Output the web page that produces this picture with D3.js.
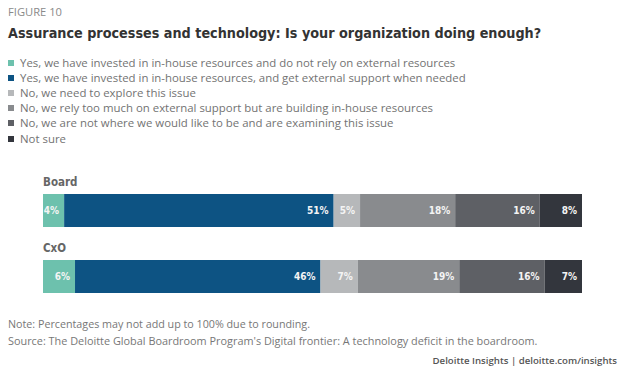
<!DOCTYPE html>
<html>
<head>
<meta charset="utf-8">
<script src="https://cdn.jsdelivr.net/npm/d3@7"></script>
<style>
  body { margin: 0; background: #fff; }
  text { font-family: "Open Sans", sans-serif; }
  .cond { font-family: "DejaVu Sans Condensed", "Liberation Sans Narrow", sans-serif; font-stretch: condensed; font-weight: bold; }
</style>
</head>
<body>
<script>
const groups = ["Board", "CxO"];
const responses = [
  "Yes, we have invested in in-house resources and do not rely on external resources",
  "Yes, we have invested in in-house resources, and get external support when needed",
  "No, we need to explore this issue",
  "No, we rely too much on external support but are building in-house resources",
  "No, we are not where we would like to be and are examining this issue",
  "Not sure"
];
const boardValues = [4, 51, 5, 18, 16, 8];
const cxoValues = [6, 46, 7, 19, 16, 7];

const colors = ["#6dc1ad", "#0d5383", "#b6b8ba", "#898b8e", "#5e6065", "#33363d"];

const w = 625;
const h = 370;

const svg = d3.select("body").append("svg")
  .attr("width", w)
  .attr("height", h);

// shrink/grow font so text hits a wanted width
function fit(sel, width) {
  const node = sel.node();
  const fs = parseFloat(sel.attr("font-size"));
  const len = node.getComputedTextLength();
  sel.attr("font-size", (fs * width / len).toFixed(2));
}

svg.append("text")
  .attr("x", 8).attr("y", 16)
  .attr("font-size", 10)
  .attr("fill", "#8a8a8a")
  .text("FIGURE 10")
  .call(fit, 54);

svg.append("text")
  .attr("class", "cond")
  .attr("x", 8).attr("y", 38)
  .attr("font-size", 17)
  .attr("fill", "#333")
  .text("Assurance processes and technology: Is your organization doing enough?")
  .call(fit, 533);

// legend
const legendY = d3.scalePoint().domain(d3.range(responses.length)).range([63, 138]);
const legend = svg.append("g")
  .selectAll("g")
  .data(responses)
  .enter()
  .append("g")
  .attr("transform", (d, i) => `translate(0,${legendY(i) + (i === 5 ? 1 : 0)})`);

legend.append("rect")
  .attr("x", 8).attr("y", -3)
  .attr("width", 6).attr("height", 6)
  .attr("fill", (d, i) => colors[i]);

const legendText = legend.append("text")
  .attr("x", 20).attr("y", 0)
  .attr("dy", "0.35em")
  .attr("font-size", 10.5)
  .attr("fill", "#737373")
  .text(d => d);

// size from the first line so all lines share one size
const l0 = legendText.filter((d, i) => i === 0);
fit(l0, 436);
legendText.attr("font-size", l0.attr("font-size"));

// bars
const x0 = 43, x1 = 582;
const barH = 33;
const rows = [
  { name: groups[0], values: boardValues, y: 194 },
  { name: groups[1], values: cxoValues, y: 260 }
];

rows.forEach(row => {
  const total = d3.sum(row.values);
  const xScale = d3.scaleLinear().domain([0, total]).range([x0, x1]);
  let acc = 0;
  const segs = row.values.map((v, i) => {
    const s = { v, i, start: acc, end: acc + v };
    acc += v;
    return s;
  });

  const g = svg.append("g");

  g.append("text")
    .attr("class", "cond")
    .attr("x", x0).attr("y", row.y - 8)
    .attr("font-size", 11.5)
    .attr("fill", "#666")
    .text(row.name);

  g.selectAll("rect")
    .data(segs)
    .enter()
    .append("rect")
    .attr("x", d => xScale(d.start))
    .attr("y", row.y)
    .attr("width", d => xScale(d.end) - xScale(d.start))
    .attr("height", barH)
    .attr("fill", d => colors[d.i]);

  g.selectAll(".val")
    .data(segs)
    .enter()
    .append("text")
    .attr("class", "cond val")
    .attr("x", d => xScale(d.end) - 5)
    .attr("y", row.y + barH / 2)
    .attr("dy", "0.35em")
    .attr("text-anchor", "end")
    .attr("font-size", 10)
    .attr("fill", "#f4f4f4")
    .text(d => d.v + "%");
});

// footer
svg.append("text")
  .attr("x", 8).attr("y", 328)
  .attr("font-size", 10)
  .attr("fill", "#777")
  .text("Note: Percentages may not add up to 100% due to rounding.")
  .call(fit, 302);

svg.append("text")
  .attr("x", 8).attr("y", 345)
  .attr("font-size", 10)
  .attr("fill", "#777")
  .text("Source: The Deloitte Global Boardroom Program's Digital frontier: A technology deficit in the boardroom.")
  .call(fit, 530);

svg.append("text")
  .attr("x", 617).attr("y", 364)
  .attr("text-anchor", "end")
  .attr("font-size", 10)
  .attr("font-weight", 600)
  .attr("fill", "#555")
  .text("Deloitte Insights | deloitte.com/insights")
  .call(fit, 185);
</script>
</body>
</html>
